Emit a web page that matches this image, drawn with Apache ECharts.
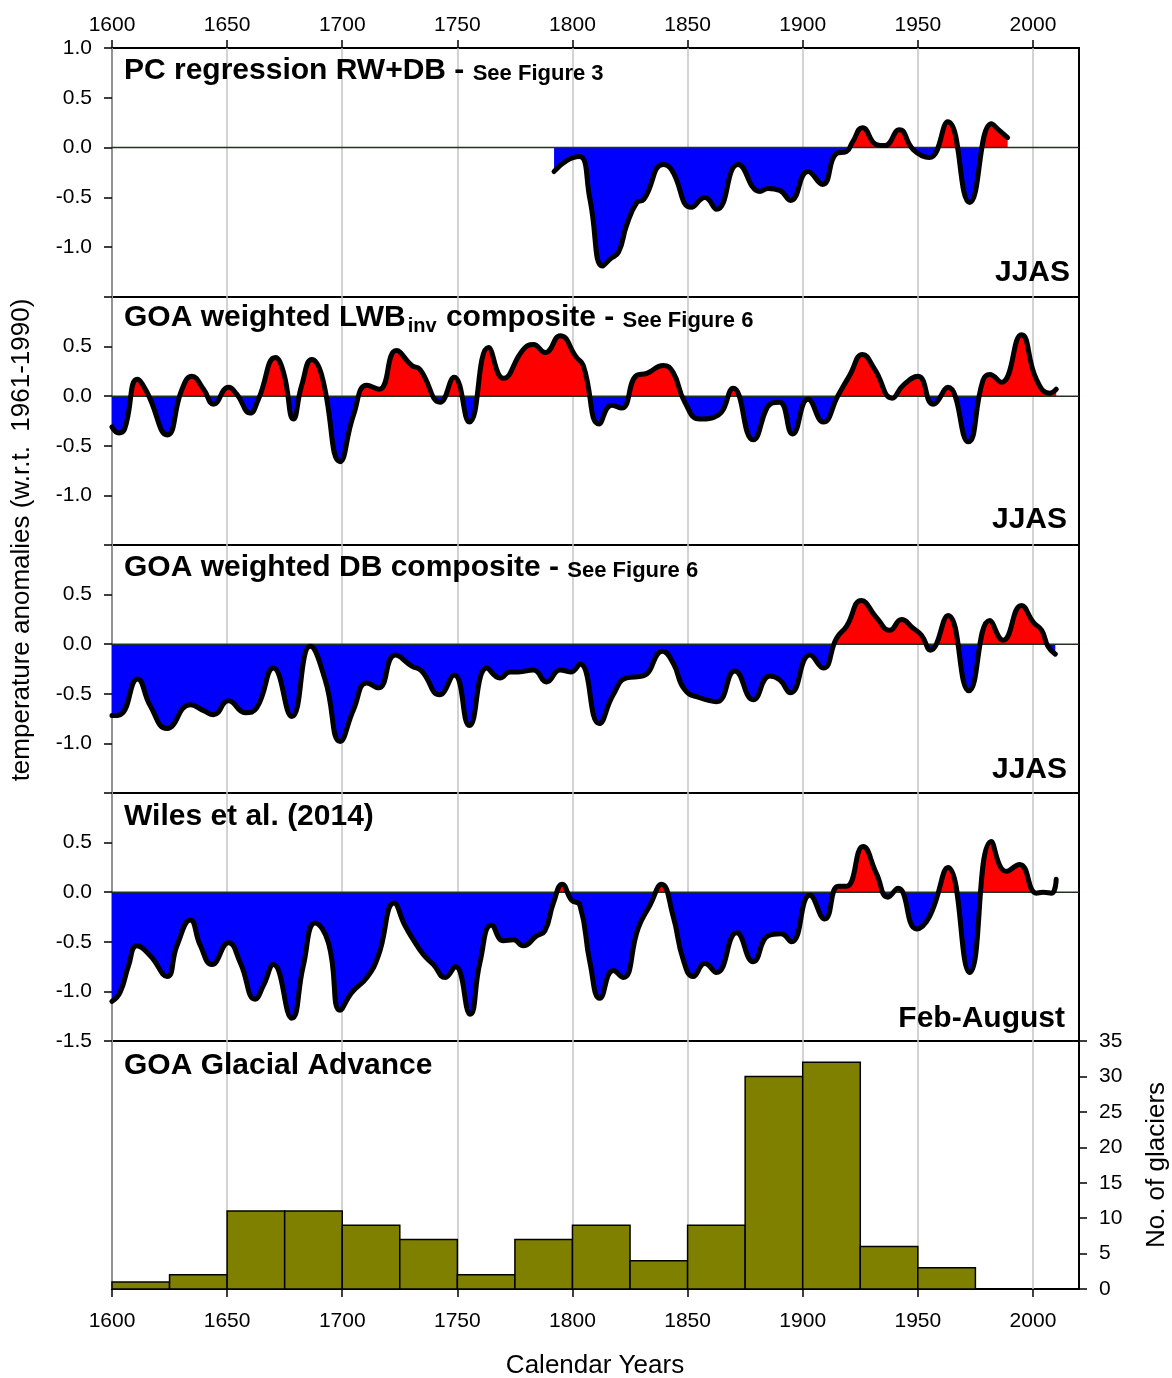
<!DOCTYPE html>
<html><head><meta charset="utf-8">
<script src="https://cdn.jsdelivr.net/npm/echarts@6/dist/echarts.min.js"></script>
<style>html,body{margin:0;padding:0;background:#fff}#c{width:1172px;height:1378px}</style>
</head><body><div id="c"></div>
<script>
// ---------- DATA ----------
const pcYears  = [1792,1797.5,1803,1807.6,1813,1816.3,1820,1823.5,1828,1831,1839.4,1843,1851.7,1857.5,1862.6,1872,1881.4,1885,1890,1894.7,1902.3,1908.6,1914.7,1919,1921.5,1926,1932,1935.6,1942,1948,1955,1963,1972.5,1982,1985.5,1989];
const pcValues = [-0.24,-0.13,-0.09,-0.52,-1.19,-1.12,-1.05,-0.78,-0.55,-0.52,-0.17,-0.22,-0.60,-0.50,-0.62,-0.17,-0.44,-0.41,-0.43,-0.53,-0.24,-0.37,-0.06,-0.04,0.05,0.20,0.03,0.02,0.18,-0.02,-0.10,0.26,-0.55,0.24,0.17,0.10];

const lwbYears  = [1600,1603,1605.5,1611,1615.2,1624,1630.4,1634.7,1639.8,1644.1,1650.6,1654.2,1660,1663.6,1671,1674.5,1678.8,1682.4,1686.8,1691.1,1699.1,1704.9,1710.7,1716,1723.5,1730.2,1733.8,1742.5,1748.6,1755.2,1763.5,1770,1778.6,1783,1788.1,1794.6,1801.8,1804.7,1811.6,1817,1821.3,1827.9,1832.3,1839.4,1843.7,1848.8,1855.3,1863.3,1869.8,1878.5,1886.5,1890,1895.6,1902.3,1908.9,1915.4,1920.4,1926,1931.3,1938.9,1943.6,1950.1,1956.6,1963.1,1971.8,1978.3,1981.2,1986.3,1995,2001.5,2007.2,2010.1];
const lwbValues = [-0.31,-0.37,-0.33,0.17,0.04,-0.39,0.07,0.20,0.07,-0.08,0.09,0.02,-0.17,-0.03,0.39,0.24,-0.23,0.11,0.37,0.21,-0.66,-0.19,0.11,0.07,0.46,0.31,0.27,-0.06,0.19,-0.26,0.49,0.18,0.47,0.52,0.44,0.61,0.39,0.31,-0.28,-0.09,-0.12,0.21,0.23,0.31,0.24,-0.06,-0.23,-0.19,0.08,-0.44,-0.07,-0.06,-0.38,-0.03,-0.26,0.01,0.21,0.42,0.27,-0.02,0.11,0.20,-0.08,0.09,-0.46,0.16,0.22,0.14,0.62,0.17,0.03,0.07];

const dbYears  = [1600,1603.6,1611.1,1616.6,1623.9,1634,1639.8,1644.1,1650.6,1657.9,1662.9,1670.1,1678.1,1686.1,1692.6,1699.1,1704.9,1710.7,1715.7,1723,1730.2,1734.5,1742.2,1748.6,1755.2,1762.8,1768.5,1772.9,1776.5,1783,1788.8,1794.6,1799.2,1803.3,1811.6,1817.7,1823.5,1830.7,1839.1,1843.7,1848.8,1855.3,1862.6,1870.5,1878.5,1885.7,1890,1894.7,1903.1,1908.9,1914.7,1919,1925.5,1932,1937.8,1942.9,1948,1951.6,1955.5,1963.1,1972.2,1981.2,1987,1995,2000.2,2003.8,2006.5,2009.7];
const dbValues = [-0.72,-0.71,-0.35,-0.62,-0.85,-0.61,-0.67,-0.71,-0.57,-0.69,-0.64,-0.24,-0.73,-0.02,-0.36,-0.98,-0.66,-0.39,-0.44,-0.11,-0.22,-0.27,-0.51,-0.31,-0.82,-0.24,-0.34,-0.28,-0.28,-0.26,-0.38,-0.26,-0.28,-0.20,-0.80,-0.51,-0.34,-0.32,-0.07,-0.19,-0.46,-0.54,-0.58,-0.27,-0.56,-0.32,-0.36,-0.49,-0.11,-0.24,0.06,0.18,0.44,0.27,0.14,0.25,0.16,0.09,-0.06,0.29,-0.47,0.24,0.04,0.39,0.22,0.14,-0.02,-0.10];

const wilesYears  = [1600,1603.5,1607.2,1610.8,1616.6,1623.9,1628.2,1634,1638.4,1643.4,1650.6,1655.7,1662.2,1665.8,1670.1,1678.1,1683.1,1688.2,1694,1699.1,1704.2,1710.7,1715.7,1722.5,1727.3,1730.9,1735.3,1739.6,1744.7,1749.1,1755.5,1759.8,1764.9,1770,1774.3,1778.6,1784.4,1788,1791.7,1795.6,1799.6,1803.2,1807.6,1811.9,1817.7,1822,1828.6,1833.7,1838.7,1843.7,1848.1,1852.4,1857.5,1862.5,1871.3,1878.5,1885,1890.5,1895.1,1903.1,1909.6,1915.4,1919,1926.2,1932,1937,1941.4,1949.4,1955.2,1963.1,1972.5,1981.9,1988.4,1994.2,2001.5,2004.4,2008,2010.1];
const wilesValues = [-1.10,-1.01,-0.74,-0.54,-0.64,-0.85,-0.54,-0.28,-0.54,-0.73,-0.51,-0.71,-1.08,-0.94,-0.73,-1.27,-0.74,-0.31,-0.51,-1.19,-1.01,-0.86,-0.64,-0.11,-0.34,-0.48,-0.63,-0.73,-0.86,-0.75,-1.23,-0.71,-0.33,-0.49,-0.48,-0.54,-0.44,-0.39,-0.11,0.08,-0.08,-0.13,-0.71,-1.07,-0.79,-0.86,-0.36,-0.13,0.08,-0.24,-0.68,-0.85,-0.72,-0.81,-0.41,-0.70,-0.44,-0.42,-0.50,-0.03,-0.27,0.06,0.06,0.46,0.19,-0.05,0.04,-0.37,-0.24,0.25,-0.81,0.51,0.21,0.28,-0.01,0.00,-0.01,0.13];

const glacierBinStart = [1600,1625,1650,1675,1700,1725,1750,1775,1800,1825,1850,1875,1900,1925,1950];
const glacierCounts   = [1,2,11,11,9,7,2,7,9,4,9,30,32,6,3];
const glacierBinWidth = 25;

const yearTicks    = [1600,1650,1700,1750,1800,1850,1900,1950,2000];
const anomalyMin = -1.5, anomalyMax = 1.0;
const glacierMax = 35;

const panelTitles = [
  '{big|PC regression RW+DB - }{small|See Figure 3}',
  '{big|GOA weighted LWB}{sub|inv}{big| composite - }{small|See Figure 6}',
  '{big|GOA weighted DB composite - }{small|See Figure 6}',
  '{big|Wiles et al. (2014)}',
  '{big|GOA Glacial Advance}'
];
const seasonLabels = ['JJAS','JJAS','JJAS','Feb-August'];
const hiddenAnomalyLabels = [[-1.5],[1.0,-1.5],[1.0,-1.5],[1.0]];

// ---------- LAYOUT ----------
const FONT = "'Liberation Sans', Arial, Helvetica, sans-serif";
const gLeft = 112, gWidth = 967;
const tops = [48, 297, 545, 793, 1041];
const heights = [249, 248, 248, 248, 248];
const titleTop = [53, 300, 550, 799, 1048];
const seasonBaseline = [283, 530, 780, 1029];
const seasonRight = [1070, 1067, 1067, 1065];

const chart = echarts.init(document.getElementById('c'), null, {renderer:'canvas'});

const grids = tops.map((t,i)=>({left:gLeft, width:gWidth, top:t, height:heights[i], show:true, borderColor:'#000', borderWidth:2, backgroundColor:'transparent'}));

const xAxes = tops.map((t,i)=>({
  type:'value', gridIndex:i, min:1600, max:2020, interval:50,
  position: i===0 ? 'top' : 'bottom',
  axisLine:{show:false, onZero:false},
  axisTick:{show: i===0 || i===4, inside:false, length:8, lineStyle:{color:'#000', width:1.5}, customValues: yearTicks},
  axisLabel:{show: i===0 || i===4, customValues: yearTicks, color:'#000', fontSize:21, fontFamily:FONT, margin: i===0 ? 12 : 22,
    formatter:(v)=>String(v)},
  splitLine:{show:true, lineStyle:{color:'#c4c4c4', width:1.5}}
}));

const yAxes = [];
for (let i=0;i<4;i++){
  const hid = hiddenAnomalyLabels[i];
  yAxes.push({
    type:'value', gridIndex:i, min:anomalyMin, max:anomalyMax, interval:0.5, position:'left',
    axisLine:{show:false, onZero:false},
    axisTick:{show:true, inside:false, length:8, lineStyle:{color:'#000', width:1.5}},
    axisLabel:{color:'#000', fontSize:21, fontFamily:FONT, margin:20,
      formatter:(v)=> hid.some(h=>Math.abs(h-v)<1e-9) ? '' : v.toFixed(1)},
    splitLine:{show:false}
  });
}
yAxes.push({
  type:'value', gridIndex:4, min:0, max:glacierMax, interval:5, position:'right',
  axisLine:{show:false, onZero:false},
  axisTick:{show:true, inside:false, length:8, lineStyle:{color:'#000', width:1.5}},
  axisLabel:{color:'#000', fontSize:21, fontFamily:FONT, margin:20, formatter:(v)=>String(v)},
  splitLine:{show:false}
});

// fill: red above the zero line, blue below (hard colour stop at the zero level of each panel)
const zeroFrac = anomalyMax/(anomalyMax-anomalyMin);
function fillFor(i){
  return new echarts.graphic.LinearGradient(0, tops[i], 0, tops[i]+heights[i], [
    {offset:0, color:'#ff0000'},{offset:zeroFrac, color:'#ff0000'},
    {offset:zeroFrac, color:'#0000ff'},{offset:1, color:'#0000ff'}], true);
}

const SMOOTH = 0.5;
const curves = [[pcYears,pcValues],[lwbYears,lwbValues],[dbYears,dbValues],[wilesYears,wilesValues]];
const series = [];
curves.forEach((c,i)=>{
  const d = c[0].map((y,k)=>[y, c[1][k]]);
  series.push({type:'line', xAxisIndex:i, yAxisIndex:i, data:d, smooth:SMOOTH, symbol:'none',
    lineStyle:{width:0, opacity:0}, areaStyle:{opacity:1, color:fillFor(i), origin:0}, silent:true, z:2});
  series.push({type:'line', xAxisIndex:i, yAxisIndex:i, data:[[1600,0],[2020,0]], symbol:'none', silent:true, z:3,
    lineStyle:{color:'#223322', width:1.5}});
  series.push({type:'line', xAxisIndex:i, yAxisIndex:i, data:d, smooth:SMOOTH, symbol:'none',
    lineStyle:{width:5, color:'#000', join:'round', cap:'round'}, itemStyle:{color:'#000'}, silent:true, z:4});
});
series.push({
  type:'custom', xAxisIndex:4, yAxisIndex:4, silent:true,
  data: glacierBinStart.map((s,i)=>[s, s+glacierBinWidth, glacierCounts[i]]),
  encode:{x:[0,1], y:2},
  renderItem:function(params, api){
    const p0 = api.coord([api.value(0), api.value(2)]);
    const p1 = api.coord([api.value(1), 0]);
    return {type:'rect', shape:{x:p0[0], y:p0[1], width:p1[0]-p0[0], height:p1[1]-p0[1]},
      style:{fill:'#808000', stroke:'#000', lineWidth:1.5}};
  }
});

const rich = {
  big:{fontSize:30, fontWeight:'bold', fontFamily:FONT, lineHeight:36, fill:'#000'},
  small:{fontSize:22, fontWeight:'bold', fontFamily:FONT, verticalAlign:'middle', padding:[5,0,0,0], fill:'#000'},
  sub:{fontSize:20, fontWeight:'bold', fontFamily:FONT, lineHeight:7, verticalAlign:'bottom', padding:[0,1,0,2], fill:'#000'}
};
const graphics = [];
panelTitles.forEach((t,i)=>{
  graphics.push({type:'text', x:124, y:titleTop[i], silent:true, z:10,
    style:{text:t, rich:rich, align:'left', verticalAlign:'top', fill:'#000'}});
});
seasonLabels.forEach((t,i)=>{
  graphics.push({type:'text', x:seasonRight[i], y:seasonBaseline[i]-28, silent:true, z:10,
    style:{text:'{big|'+t+'}', rich:rich, align:'right', verticalAlign:'top', fill:'#000'}});
});
graphics.push({type:'text', x:22, y:540, rotation:Math.PI/2, silent:true,
  style:{text:'temperature anomalies (w.r.t.  1961-1990)', font:'26px '+FONT, fill:'#000', align:'center', verticalAlign:'middle'}});
graphics.push({type:'text', x:1157, y:1165, rotation:Math.PI/2, silent:true,
  style:{text:'No. of glaciers', font:'26px '+FONT, fill:'#000', align:'center', verticalAlign:'middle'}});
graphics.push({type:'text', x:595, y:1366, silent:true,
  style:{text:'Calendar Years', font:'26px '+FONT, fill:'#000', align:'center', verticalAlign:'middle'}});

chart.setOption({
  animation:false,
  backgroundColor:'#fff',
  grid:grids, xAxis:xAxes, yAxis:yAxes,
  series:series,
  graphic:graphics
});
</script></body></html>
